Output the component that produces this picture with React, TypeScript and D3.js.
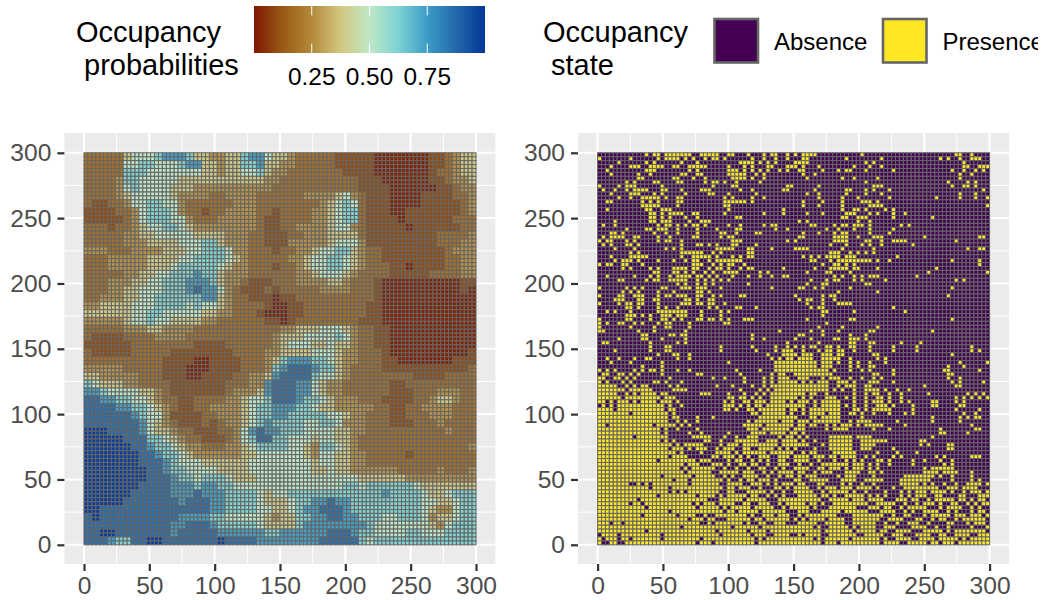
import { useEffect, useRef } from 'react';
import * as d3 from 'd3';

const ticks = [0, 50, 100, 150, 200, 250, 300];
const minorTicks = [25, 75, 125, 175, 225, 275];
const legendTicks = [0.25, 0.5, 0.75];
const stateLabels = ['Absence', 'Presence'];
const stateColors = ['#440154', '#FDE725'];
const probStops = [0, 0.125, 0.25, 0.375, 0.5, 0.625, 0.75, 0.875, 1];
const probColors = ['#7e1700', '#9a5a15', '#b3893a', '#d2c880', '#bfe8c6', '#7dd3d3', '#3b9cc6', '#2368aa', '#033698'];
// probability that each digit in probRows stands for
const probLevels = [0.02, 0.1, 0.18, 0.27, 0.38, 0.5, 0.62, 0.74, 0.86, 0.98];

// occupancy probability per 2x2 block of sites, top row first
const probRows = [
  '2222245556 7776443344 6775443222 2211111000 0000112344',
  '2222255665 5567744344 6674433222 2211111000 0000112344',
  '2222266655 5555544344 5564332222 2221111000 0000122344',
  '2222366555 5544444444 4443322222 2222211100 0000112334',
  '2222356555 5444333333 3333222222 2222211110 0000011233',
  '2222345555 5433332233 3322222233 3345321110 0001111223',
  '2112235566 5532222223 3322222222 3456521110 0001111123',
  '1111223566 6532212233 3322122223 3456621110 0111111123',
  '1111123566 6553222333 3321122223 3456621111 0111111222',
  '2221223455 6654333333 3321122333 3455321111 1011111122',
  '2222233445 5555444433 3221112233 3444421111 1111122223',
  '2222233344 4455566433 3221113333 3455531111 1111122233',
  '3332223333 4445566653 3222122334 5566432211 1111112333',
  '2223333344 4455666654 3222223345 5665432211 1111112233',
  '2223333344 4566666543 3222122345 5665432221 1011112233',
  '2222233445 5666766433 3222222334 5554322221 1111222233',
  '2223334455 6667776433 2111222333 3443222100 0000000011',
  '2223344555 6667877532 1112122222 3333222100 0000000010',
  '2233344556 6666677432 2111011222 2222222100 0000000000',
  '3344445556 6665655432 2221001122 2222221100 0000000000',
  '4444445566 5555544332 2210001122 2222221100 0000000000',
  '3333345565 5444433222 2221101222 2222211100 0000000000',
  '2222233344 3333222222 2222233444 5554322110 0000000000',
  '2111122223 3332222222 2222344455 5565322110 0000000000',
  '1111112222 2222111122 2222345554 4544322110 0000000000',
  '2111112222 2111111112 2223344445 5543322210 0000000001',
  '2222222222 1111001111 2223467776 6543322211 0000000111',
  '3333322222 1110001111 2223678887 6643222211 1111111112',
  '4433333222 1110011112 2334788886 5543222222 2211112222',
  '6544433222 2111111122 2337888775 4332222221 1222222222',
  '7765555443 2111111123 3347888775 4332222221 1122233322',
  '8877665543 2211222233 4556888766 5433322211 1122344322',
  '8888776654 3211223333 4566777665 4433333221 1223333222',
  '8888887655 3111122333 4566776666 6554332221 1222333222',
  '8888888754 3211121233 4567666655 6653332221 1122232222',
  '9998888754 4322111223 5787766655 5544332222 2222223222',
  '9999988866 5432211123 5688665554 5544322222 2222222222',
  '9999998876 6543322233 4566665543 6654322222 2222222223',
  '9999999887 6654333333 4455555543 5544332222 2122222222',
  '9999999888 7655544444 4555555554 5544332222 2222222222',
  '9999999988 7665555444 4555555554 4544333333 2222232223',
  '9999999988 8766566654 4455555555 5555544444 4333333333',
  '9999999888 8777677665 5555555555 5556656666 6654444444',
  '9999998888 8777877766 6654556666 6666666676 6665445666',
  '9999988888 8878887766 6654445667 7877666666 6665544566',
  '9988888888 8888887766 6655445677 8887666666 6665433566',
  '8988888888 8877776655 5554344667 7887766655 6665344566',
  '8888888888 8778887666 6654444677 7777776555 5555435666',
  '8899888888 8788888777 7776677777 7888766555 5665556666',
  '8887668899 8888888988 8877777777 8888865666 6666666666',
];

// columns with presence in each quadrant (0-49 inside the quadrant), top row first
const presenceTopLeft = [
  '12 14 15 17-23 26-30 33 34 38 42 44 45 48',
  '0 8 15 17-20 22 24 27 29 30 32 39 42 45 48',
  '5 12 14 21 25 36-39 41 43 45',
  '3 8-10 13-16 19 20 23-27 33 37 39 43 44 48 49',
  '2 12-14 23 25 33-35 37 39 41 43 46 48',
  '3 10 13 21 22 25 26 33-37 40 42',
  '10 11 19 20 24 27 34-37 39 42',
  '7 9 14 15 20 21 27 29 30 32 35 41',
  '0 5 7-9 16 29 34 35 48 49',
  '1 4 7 9-12 16 17 21 26-28 36 39 47 48',
  '3 8-10 14 16 22 28 29 33 40',
  '5 8 11-15 17 20 21 32 34 39 42',
  '2 3 11 13 15 20 21 32-37 39',
  '11-15 20 32 33',
  '2 12 13 16-18 33 47',
  '13 14 16 18-21 24 25 32 42 47',
  '13 14 16 18 22 25 35 36',
  '4 13 14 16-18 23 26-28',
  '1 4 15 17 18 20 22 24 25 27 33 36 42 44 45',
  '7 12 13 15-17 20 25 30 35 36 45 48',
  '3 4 6 14 17 20 25 31 32 35 40 41',
  '1 3-6 9 10 15 18 24 25 31 33 34',
  '0 2 3 7 9 15 17 18 21 34-36 48',
  '1 3 7 8 10 21 25 26 28 30 34 35 40',
  '4 9 17 19 21 30-34 38 39 44',
  '8 10 21-26 29 31 38 39',
  '3 8-12 21 24-28 30 34 36 38 39',
  '4 6-8 10 15 19 22 24 25 28 30-36',
  '0 2 3 6 7 11 24-26 29 31 33 34 37',
  '6 8 13 15 19-22 24 25 28 30 31 33 36 38 39 47',
  '14 15 19 20 22 24 27 29 32-35 41 43',
  '2 9 13 15 18 20-23 25 26 28 30 34 38 41 44 47 48',
  '5 6 12 14 15 18-22 25 27 29 31 33',
  '20 22 25 27 29 38',
  '0 7 9 11 16 17 21-23 25-27 31 44',
  '6 8 10 15 19 25 26 28',
  '0 5 6 9-11 15 17 18 20-22 25 26 29 31 36 37',
  '4-6 10 11 14 15 22 23 25 28 29',
  '0 5 7 8 10 11 15 21-23 25 26 28 29 32',
  '7 8 10 15 17 20 28 30 35 36 40',
  '2 4 8 15-22 26 31 33',
  '7-9 11 13 16-18 20-22 26 31',
  '0 7 8 13 16 17 19 21 25 26 28 29 31 33 37-39',
  '0 2 5 6 9 11 15 17 18 23 32 33',
  '0 8 14 17 18 23',
  '0 1 10 14 22 46',
  '11 12 18 19 21 22 39',
  '5 11 12 16 22 39 42',
  '1 2 13 20 22 48',
  '13 17 18 31 39 45 48',
];

const presenceTopRight = [
  '0 2-5 17 41 42 45',
  '2 3 13 22 37 39 42 45-47',
  '0-3 18 20 43',
  '0 2 6 15 19 22 43 44 47-49',
  '1 2 7 11 13 14 18 25 40 43 46 48',
  '2 5 42 45',
  '3 12 15 21 42',
  '18 39 44 46',
  '6 20-22 40 43 44 46',
  '5 13 14 18 20 24 48',
  '3 6 13 18 22 42 46',
  '6 12 16 24 36 42 46 49',
  '2 7 12 17-19 21',
  '2 6 12 19-22 49',
  '12 15 16 18 23 25',
  '3 7 13-15 19 21 25 28',
  '12 13 16-18 25 35',
  '1 3 16 19',
  '4 5 10 12 13 15-17 19 27 29',
  '8 11 15 19 25',
  '2 6 10 12 13 19 24',
  '1 2 10-13 16 20-22 33 47 48',
  '0 10-13 18 19 22 25-28 41',
  '9 13 17 19 22 30',
  '0-3 12 20 44 47 48',
  '9-11 14 16 18 20',
  '2 4 6 8-11 13-15 26',
  '4 5 9 11-19 21 24 40 47',
  '7 10 11 13 15 47',
  '5 9-13 15 16 21 36',
  '3 8 9 14 34 49',
  '10 12 15 17 19-21 31',
  '4 8 10 11 15 17 23 41 43',
  '3 7 8 18 19',
  '1 2 5 7 14 40',
  '11 21',
  '0 7 9 10 39',
  '1 3 4 7 10',
  '3 7 11-14',
  '4 6 7 25',
  '7 8 15 28',
  '7',
  '3 14 15 40',
  '8',
  '6 12 21',
  '4 7 11 19 20 35',
  '1 2 7 14 18',
  '0 4 10 11 14-16 18',
  '6 14 15 19 20 27 32',
  '0 2 4 5 8 9 11 14 15 19 25 31 45',
];

const presenceBottomLeft = [
  '4 13 17 18 31 40 45 47-49',
  '15 19 20 23 43 47-49',
  '2 5 9 12 13 20 23 44 46 48 49',
  '3 8 16 33 45-49',
  '11 16 45-49',
  '0 2 4 9 11 13 14 16 20 23 35 41 45-49',
  '1 2 5 6 8 10 16 25 26 36 44 46 47',
  '0 1 4 5 7 9 18 29 32 37 42 44 46-48',
  '0 2 6 8 14 15 17 21 37 42 44 46-49',
  '0-4 7 9 11 12 18 20 30 34 39 42 44-49',
  '0-6 8-13 19-22 36 41 43 45-49',
  '0-4 7 9 11-14 16 17 26-28 33 37 40 42 44-49',
  '0-5 7-15 17-19 33 34 36 37 39 41 44-49',
  '0 1 3 5-7 9 11-14 16-18 20 32 34 37 38 40-42 44-47 49',
  '1 3 5-16 18 21 32-34 36 38 40 41 43-49',
  '0-3 5-16 18 19 32 33 35 38 39 41-47 49',
  '0-7 9-17 19 39 40 42-47 49',
  '0-17 19 20 25 29 41-49',
  '0-17 20 22 25 38 40-45 47-49',
  '0 1 3-13 15-19 21 23 37-41 43-49',
  '0-15 17 20 25 38-40 42-48',
  '0-15 17 23 26 33 39-42 44-47 49',
  '0-8 10-17 24-28 32 35 38-40 46 48 49',
  '0-15 17 19 27 28 31 35-40 43-45 47-49',
  '0-18 20 22-26 31 33-35 37-45 47-49',
  '0-17 19-21 23 25-27 30 32-34 37 38 41-44 46 48',
  '0-19 21 26 30-33 35 37-42 44-49',
  '0-17 19-22 29 30 32-34 36 38 41-43 46-48',
  '0-14 16-24 26-28 33 35 36 39 41 43 46 47',
  '0-21 23-25 29-31 33 36 37 39 40 43 46-48',
  '0-20 22 24-29 32 35 38 41 42 45 47',
  '0-21 23-28 31-35 37-39 42 44 46-49',
  '0-15 17-23 25-29 32 34 37-40 43 46 48 49',
  '0-18 20-22 24-31 33 36 38 39 41-43 45',
  '0-7 10 12 14-22 24-30 33-36 39-41 43 45 47-49',
  '0-12 14-17 19-31 33 34 36-38 41 45 46 48',
  '0-17 19 21 23-30 33 34 38-42 44 47',
  '0-14 16-24 26-29 31 33-37 39 40 43 45 47',
  '0-9 11-27 31-36 38-42 46-49',
  '0-7 9 10 12-23 25 27-29 31-34 37 38 41-43 46 48 49',
  '0-11 13-24 26-30 32 34-38 40-44 47 49',
  '0-17 19-31 33 34 36-40 42-47',
  '0-10 12-19 21-24 27 30-37 39 42-44 46-48',
  '0-22 24-26 28 29 33-38 40 41 43-48',
  '0-2 4 5 7-25 28 30-36 38 41 42 45-47',
  '0-20 22-33 35-40 42-49',
  '0-11 13-29 31-37 39-42 44-49',
  '1-4 6-15 17-30 32-38 40-42 45-48',
  '0 2-4 6 7 9-15 17-25 27-39 41 43-49',
  '0 3 4 7-24 26-28 30-39 41-49',
];

const presenceBottomRight = [
  '2 6 8 9 11 12 15 19 25 31 45 47',
  '0 2-4 7-9 11 12 20 21 40',
  '1-4 7-11 14 21 23',
  '0-5 7-9 11 14 16 19 23 42 49',
  '0-5 7-9 14 16 19 20 39 43',
  '0-8 10 14 17 19 25 38 39 47',
  '0-9 20 21 25 39 40',
  '1-3 7 9-11 14 17 20 22 39 42',
  '0 2 4 6-8 11-13 15 19-21 25 40 42 48',
  '0-8 11 13-15 18 19 33 41 42',
  '0-8 10 12 15 18-21 23 26 29',
  '0-2 4 5 8 15 18 20 21 24 27 34 44 46 48',
  '0 2 4 8-10 13 15 18 21 22 24 27 41 43 45 47 49',
  '1-3 5 7-11 15 18 20-22 24 27 29 35 36 41 43',
  '0-2 5 7-11 13 15 18 21-23 25 30 35 36 42 43',
  '0 2 4-11 15 16 18 20-24 30 41 47',
  '2 4-7 9-11 14 15 17 20 24 28 30 43 46',
  '0 4 5 7-11 17 35 42 44 46 47',
  '1-3 5-11 14 16-19 26 35 42',
  '1 2 4 5 8 10 12-14 16 18-22 28 45',
  '0-2 8 10-13 20 24 37 46 47',
  '0 2 37 38 44',
  '1 3 9-14 16-19 35',
  '0 2 5 9-14 17-23 32 33',
  '0-3 7 9-14 17-20 32 34 39 40',
  '0 5 9-14 17-19 25 39 40',
  '2 4 5 10-15 21 26 31',
  '0-3 5-7 9 10 12-15 18 20 25 27 36 38 45-47',
  '0-3 6 10 13 15 17 21 22 24 30 33 37 40',
  '1 4 7-13 15-17 19 21 24 30 38 40',
  '0-3 6 7 9-11 13 15-17 19 21 33 35-40',
  '1 2 5 7-9 13-16 19 20 22 33-36 38-41 45',
  '1 3-5 11 13-15 20 28-35 37 40 45',
  '0 1 4-8 12-15 18-22 27-34 40 45 47',
  '1 2 6 7 12 14 17 20 27-31 33 35 38 41 44-47 49',
  '0-3 6 8-10 12-14 16-19 21 25 28-36 39-41 43-46',
  '0-4 7 9-13 15 18 23 27 29 31-33 35-38 40 43 45-47 49',
  '1-5 7 8 10 13-17 19 21 23 27 29 31-33 36 37 42 43 47-49',
  '0-6 9-13 15-17 19-22 26-28 30 31 34 36-40 42 43 45 47 48',
  '0-2 4 5 7 10-18 21-25 28 31 33-35 37 40 41 44 46 48 49',
  '0-3 5 9-15 19-21 23 24 27 29-33 37 39-42 45 47',
  '1-3 7-11 13-18 22-25 28 30 33-36 39 41 45 47 48',
  '1 3-10 15-22 25 28 29 33 35-39 41-43 45-47 49',
  '0 2 4-7 9-12 15-21 24-27 31 32 35 37 38 41 43-48',
  '1-5 8-12 15-20 23 26 29-31 34 39 40 44 46-48',
  '0-4 6 9-13 15 17-20 23-25 30-33 36 39 45 49',
  '0-6 8-14 16-20 22 23 26-29 33-37 39 41-48',
  '1 3-6 9-15 18-22 25-27 31-34 37 38 41-44 47-49',
  '0-4 6 8-13 15-21 23 26-29 32-35 37-41 43 45-49',
  '0-6 8-10 12-21 23-26 29-33 35 36 38-40 42-49',
];

const parseCols = (s: string) => {
  const out: number[] = [];
  s.split(' ').forEach(part => {
    const [a, b] = part.split('-').map(Number);
    for (let c = a; c <= (b === undefined ? a : b); c++) out.push(c);
  });
  return out;
};

const font = '"Liberation Sans", Arial, sans-serif';
const tileSize = 3;
const tileCount = 100;

export default function App() {
  const ref = useRef<SVGSVGElement>(null);

  useEffect(() => {
    const svg = d3.select(ref.current);
    svg.selectAll('*').remove();

    const probColor = d3.scaleLinear<string>().domain(probStops).range(probColors).interpolate(d3.interpolateRgb);

    const defs = svg.append('defs');
    const grad = defs.append('linearGradient').attr('id', 'probGrad');
    probStops.forEach((s, i) => grad.append('stop').attr('offset', s).attr('stop-color', probColors[i]));
    defs.append('clipPath').attr('id', 'pageClip').append('rect').attr('width', 1038).attr('height', 600);

    const root = svg.append('g').attr('clip-path', 'url(#pageClip)');

    // build the two tile tables
    const probTiles: { c: number; r: number; v: number }[] = [];
    const probClean = probRows.map(r => r.replace(/ /g, ''));
    for (let r = 0; r < tileCount; r++) {
      for (let c = 0; c < tileCount; c++) {
        const d = +probClean[Math.floor(r / 2)][Math.floor(c / 2)];
        probTiles.push({ c, r, v: probLevels[d] });
      }
    }
    const presence = d3.range(tileCount).map(() => new Array(tileCount).fill(0));
    const fillQuad = (rows: string[], r0: number, c0: number) => {
      rows.forEach((s, r) => parseCols(s).forEach(c => { presence[r0 + r][c0 + c] = 1; }));
    };
    fillQuad(presenceTopLeft, 0, 0);
    fillQuad(presenceTopRight, 0, 50);
    fillQuad(presenceBottomLeft, 50, 0);
    fillQuad(presenceBottomRight, 50, 50);
    const stateTiles: { c: number; r: number; v: number }[] = [];
    presence.forEach((row, r) => row.forEach((v: number, c: number) => stateTiles.push({ c, r, v })));

    const panel = (left: number, tiles: { c: number; r: number; v: number }[], fill: (v: number) => string) => {
      const x = d3.scaleLinear().domain([0, 300]).range([left + 19.6, left + 411.6]);
      const y = d3.scaleLinear().domain([0, 300]).range([544.8, 152.8]);
      const g = root.append('g');
      g.append('rect').attr('x', left).attr('y', 133).attr('width', 431).attr('height', 431).attr('fill', '#EBEBEB');

      minorTicks.forEach(t => {
        g.append('line').attr('x1', x(t)).attr('x2', x(t)).attr('y1', 133).attr('y2', 564).attr('stroke', 'white').attr('stroke-width', 1);
        g.append('line').attr('y1', y(t)).attr('y2', y(t)).attr('x1', left).attr('x2', left + 431).attr('stroke', 'white').attr('stroke-width', 1);
      });
      ticks.forEach(t => {
        g.append('line').attr('x1', x(t)).attr('x2', x(t)).attr('y1', 133).attr('y2', 564).attr('stroke', 'white').attr('stroke-width', 2.1);
        g.append('line').attr('y1', y(t)).attr('y2', y(t)).attr('x1', left).attr('x2', left + 431).attr('stroke', 'white').attr('stroke-width', 2.1);
      });

      const w = x(tileSize) - x(0);
      g.selectAll('rect.tile').data(tiles).enter().append('rect')
        .attr('class', 'tile')
        .attr('x', d => x(d.c * tileSize))
        .attr('y', d => y(300 - d.r * tileSize))
        .attr('width', w)
        .attr('height', w)
        .attr('fill', d => fill(d.v))
        .attr('stroke', '#666666')
        .attr('stroke-width', 1.05);

      const xAxis = g.append('g').attr('transform', 'translate(0,564)')
        .call(d3.axisBottom(x).tickValues(ticks).tickSize(7).tickPadding(6));
      const yAxis = g.append('g').attr('transform', `translate(${left},0)`)
        .call(d3.axisLeft(y).tickValues(ticks).tickSize(7).tickPadding(6));
      [xAxis, yAxis].forEach(a => {
        a.select('.domain').remove();
        a.selectAll('line').attr('stroke', '#333333').attr('stroke-width', 2.2);
        a.selectAll('text').attr('fill', '#4D4D4D').style('font-family', font).style('font-size', '24.6px');
      });
    };

    panel(64.4, probTiles, probColor);
    panel(578, stateTiles, v => stateColors[v]);

    // legends
    const txt = (t: string, x: number, y: number, size: number, anchor = 'start') =>
      root.append('text').text(t).attr('x', x).attr('y', y).attr('text-anchor', anchor)
        .attr('fill', 'black').style('font-family', font).style('font-size', `${size}px`);

    txt('Occupancy', 76, 42, 29);
    txt('probabilities', 84, 75, 29);
    txt('Occupancy', 543, 42, 29);
    txt('state', 551, 75, 29);

    const barScale = d3.scaleLinear().domain([0, 1]).range([254, 485]);
    root.append('rect').attr('x', barScale(0)).attr('y', 6).attr('width', barScale(1) - barScale(0)).attr('height', 47).attr('fill', 'url(#probGrad)');
    legendTicks.forEach(t => {
      root.append('line').attr('x1', barScale(t)).attr('x2', barScale(t)).attr('y1', 6).attr('y2', 15.4).attr('stroke', 'white').attr('stroke-width', 1);
      root.append('line').attr('x1', barScale(t)).attr('x2', barScale(t)).attr('y1', 43.6).attr('y2', 53).attr('stroke', 'white').attr('stroke-width', 1);
      txt(d3.format('.2f')(t), barScale(t), 85, 24.4, 'middle');
    });

    const keyX = [714.5, 883];
    stateLabels.forEach((l, i) => {
      root.append('rect').attr('x', keyX[i]).attr('y', 19).attr('width', 43.5).attr('height', 43.5)
        .attr('fill', stateColors[i]).attr('stroke', '#666666').attr('stroke-width', 2.6);
      txt(l, keyX[i] + 59.5, 50, 24);
    });
  }, []);

  return (
    <svg ref={ref} width={1045} height={600} style={{ position: 'absolute', left: 0, top: 0, background: 'white' }} />
  );
}
